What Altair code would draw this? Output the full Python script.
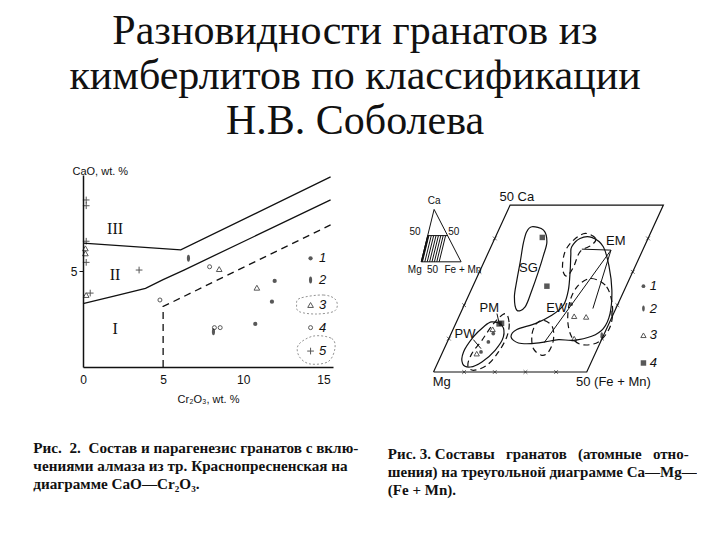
import altair as alt
import pandas as pd

BLACK = "#111111"
SERIF = "Liberation Serif"
SANS = "Liberation Sans"
NB = "\u00a0"

TITLE_LINES = ["Разновидности гранатов из", "кимберлитов по классификации", "Н.В. Соболева"]
CAPTION_LEFT = ["Рис." + NB + " 2." + NB + " Состав и парагенезис гранатов с вклю-",
                "чениями алмаза из тр. Краснопресненская на",
                "диаграмме CaO—Cr₂O₃."]
CAPTION_RIGHT = ["Рис. 3. Составы" + NB * 2 + " гранатов" + NB * 2 + " (атомные" + NB * 2 + " отно-",
                 "шения) на треугольной диаграмме Ca—Mg—",
                 "(Fe + Mn)."]

# ---------------- Left panel: CaO vs Cr2O3 (wt.%) ----------------
b3_x = [0.0, 6.1, 15.45]
b3_y = [6.45, 6.1, 9.9]
b2_x = [0.0, 2.0, 3.9, 5.0, 6.3, 15.45]
b2_y = [3.3, 3.7, 4.1, 4.55, 5.05, 8.7]
bd_x = [5.0, 5.0, 15.45]
bd_y = [0.0, 3.15, 7.4]

t1_x = [11.96, 11.79, 10.75]
t1_y = [4.48, 3.40, 2.24]
t2_x = [6.58, 8.14]
t2_y = [5.66, 1.84]
t3_x = [8.5, 10.85, 0.15, 0.15, 0.2]
t3_y = [5.1, 4.13, 6.18, 5.92, 3.75]
t4_x = [7.9, 4.8, 8.2, 8.56]
t4_y = [5.22, 3.49, 2.05, 2.05]
t5_x = [0.2, 0.2, 0.2, 0.2, 3.5, 0.45]
t5_y = [8.7, 8.4, 6.55, 5.45, 5.05, 3.85]

zone_x = [2.0, 2.0, 2.0]
zone_y = [7.2, 4.8, 2.0]
zone_txt = ["III", "II", "I"]

legL_x = 14.2
legL_lx = 14.95
legL_y = [5.66, 4.53, 3.23, 2.05, 0.83]
legL_txt = ["1", "2", "3", "4", "5"]

loop3_x = [13.54, 14.99, 15.78, 15.72, 14.58, 13.5, 13.33]
loop3_y = [3.58, 3.75, 3.49, 2.93, 2.76, 2.88, 3.23]
loop5_x = [14.37, 15.51, 15.72, 15.3, 14.16, 13.5, 13.44]
loop5_y = [1.61, 1.49, 0.97, 0.28, 0.16, 0.54, 1.15]

# ---------------- Right panel: Ca-Mg-(Fe+Mn) diagram ----------------
frame_fe = [0, 50, 50, 0, 0]
frame_ca = [0, 0, 50, 50, 0]
tick_vals = [10, 20, 30, 40]

# outlines in diagram coordinates (x = Fe + Ca/2, y = Ca)
SG_x = [32.1, 35.9, 37.0, 35.9, 34.2, 32.1, 29.9, 27.2, 26.4, 27.2, 28.3, 29.3, 30.4]
SG_y = [43.5, 42.5, 39.0, 35.0, 30.0, 24.5, 19.5, 18.5, 22.5, 27.5, 33.0, 38.5, 42.0]
EW_x = [45.1, 47.8, 51.6, 55.4, 57.3, 58.2, 57.6, 55.4, 51.6, 45.7, 40.8, 36.4, 32.1, 27.7,
        25.3, 27.2, 33.2, 38.6, 42.4, 44.0, 44.6, 44.8]
EW_y = [37.5, 40.0, 40.3, 37.5, 31.5, 24.5, 17.5, 13.0, 10.7, 9.5, 9.7, 9.0, 8.5, 8.7,
        10.5, 12.7, 14.5, 17.0, 20.0, 24.5, 30.5, 35.0]
PW_x = [19.0, 22.3, 22.8, 20.1, 15.8, 12.0, 9.5, 9.8, 13.0, 16.3]
PW_y = [15.0, 14.0, 10.5, 6.5, 3.0, 1.5, 2.5, 6.0, 10.5, 13.5]
EMt_x = [49.5, 52.9, 51.6, 47.8, 45.7, 43.5, 42.1, 42.9, 45.7]
EMt_y = [41.5, 40.0, 38.0, 36.0, 31.5, 28.7, 31.0, 36.0, 39.5]
EMr_x = [51.6, 56.5, 58.4, 57.6, 53.8, 48.4, 45.1, 43.8, 44.6, 47.3]
EMr_y = [28.0, 25.5, 19.5, 13.5, 9.0, 8.2, 10.5, 15.5, 21.5, 26.0]
EMs_x = [35.9, 38.8, 39.1, 37.5, 35.3, 32.6, 32.1, 33.4]
EMs_y = [15.5, 13.5, 9.5, 6.0, 5.0, 7.0, 11.0, 14.3]
PM_x = [23.4, 24.7, 23.9, 21.2, 17.4, 13.0, 11.2, 12.5, 15.8, 19.6]
PM_y = [17.5, 14.5, 10.5, 6.0, 2.0, 0.5, 2.0, 5.5, 9.5, 14.5]

field_txt = ["SG", "EW", "PM", "PW", "EM"]
field_x = [31.0, 40.2, 18.2, 10.3, 59.5]
field_y = [31.0, 19.2, 19.3, 11.3, 39.2]

seg_x = [57.9, 57.9, 57.9, 20.7, 13.0]
seg_y = [36.5, 36.5, 36.5, 17.5, 9.7]
seg_x2 = [48.4, 52.0, 36.1, 21.4, 15.5]
seg_y2 = [36.8, 19.0, 8.8, 14.7, 7.0]

r1_x = [44.9, 15.5, 17.9, 19.5]
r1_y = [20.3, 6.0, 9.0, 11.5]
r2_x = [58.2, 54.9]
r2_y = [17.5, 11.0]
r3_x = [45.9, 49.8, 45.9, 14.1, 19.3]
r3_y = [16.7, 16.5, 10.0, 5.5, 12.8]
r4_x = [35.5, 37.0, 21.4, 22.2]
r4_y = [40.3, 25.7, 14.4, 14.6]

legR_x = 68.5
legR_lx = 71.7
legR_y = [25.7, 19.0, 11.0, 2.7]
legR_txt = ["1", "2", "3", "4"]

corner_txt = ["50 Ca", "Mg", "50 (Fe + Mn)"]
corner_x = [27.2, 2.7, 58.7]
corner_y = [52.5, -3.0, -3.0]

# inset ternary triangle (percents) and its placement in the diagram
inset_tri_fe = [0, 100, 0, 0]
inset_tri_ca = [0, 0, 100, 0]
inset_hatch_fe = [0, 1, 2, 3, 9, 15, 21, 27, 33, 39, 45]
inset_lbl_txt = ["Ca", "50", "50", "Mg", "50", "Fe + Mn"]
inset_lbl_x = [0.2, -6.0, 6.6, -6.1, -0.3, 9.6]
inset_lbl_y = [51.2, 41.8, 41.8, 30.6, 30.6, 30.6]
INSET_O = (-4.0, 33.0)
INSET_S = (0.13, 0.042, 0.157)


def inset_xy(fe, ca):
    return INSET_O[0] + INSET_S[0] * fe + INSET_S[1] * ca, INSET_O[1] + INSET_S[2] * ca


# ---------------- helpers ----------------
XL = alt.Scale(domain=[0, 15.6], nice=False, zero=False)
YL = alt.Scale(domain=[0, 10], nice=False, zero=False)
AX_X = alt.Axis(values=[0, 5, 10, 15], title="Cr₂O₃, wt. %", grid=False, ticks=False,
                labelFont=SANS, labelFontSize=12, labelColor=BLACK, labelPadding=7,
                labelFlush=False, titleFont=SANS, titleFontSize=11, titleFontWeight="normal",
                titleColor=BLACK, titlePadding=8, domainColor=BLACK, domainWidth=1.5)
AX_Y = alt.Axis(values=[5], title="CaO, wt. %", grid=False, tickSize=4, tickColor=BLACK,
                labelFont=SANS, labelFontSize=12, labelColor=BLACK, labelPadding=2,
                titleFont=SANS, titleFontSize=11, titleFontWeight="normal", titleColor=BLACK,
                titleAngle=0, titleAlign="left", titleBaseline="middle", titleX=-11, titleY=-4,
                domainColor=BLACK, domainWidth=1.5)


def enc_l():
    return dict(x=alt.X("x:Q", scale=XL, axis=AX_X), y=alt.Y("y:Q", scale=YL, axis=AX_Y))


def lines_df(groups):
    rows = []
    for g, (xs, ys) in enumerate(groups):
        for i, (a, b) in enumerate(zip(xs, ys)):
            rows.append({"g": g, "i": i, "x": a, "y": b})
    return pd.DataFrame(rows)


def pts(xs, ys):
    return pd.DataFrame({"x": xs, "y": ys})


PLUS = "M-1,0L1,0M0,-1L0,1"
XSHAPE = "M-1,-1L1,1M-1,1L1,-1"
ELLIPSE = "M0,-1C0.6,-1 0.6,1 0,1C-0.6,1 -0.6,-1 0,-1Z"

# ---------------- left panel layers ----------------
L_solid = alt.Chart(lines_df([(b3_x, b3_y), (b2_x, b2_y)])).mark_line(
    color=BLACK, strokeWidth=1.3).encode(detail="g:N", order="i:Q", **enc_l())
L_dash = alt.Chart(lines_df([(bd_x, bd_y)])).mark_line(
    color=BLACK, strokeWidth=1.3, strokeDash=[7, 5]).encode(order="i:Q", **enc_l())
L_loops = alt.Chart(lines_df([(loop3_x, loop3_y), (loop5_x, loop5_y)])).mark_line(
    color="#777777", strokeWidth=0.8, strokeDash=[2, 2], interpolate="cardinal-closed"
).encode(detail="g:N", order="i:Q", **enc_l())

L_t1 = alt.Chart(pts(t1_x + [legL_x], t1_y + [legL_y[0]])).mark_point(
    shape="circle", filled=True, color=BLACK, size=18).encode(**enc_l())
L_t2 = alt.Chart(pts(t2_x + [legL_x], t2_y + [legL_y[1]])).mark_point(
    shape=ELLIPSE, filled=True, color=BLACK, size=50).encode(**enc_l())
L_t3 = alt.Chart(pts(t3_x + [legL_x], t3_y + [legL_y[2]])).mark_point(
    shape="triangle-up", filled=False, color=BLACK, size=32, strokeWidth=1).encode(**enc_l())
L_t4 = alt.Chart(pts(t4_x + [legL_x], t4_y + [legL_y[3]])).mark_point(
    shape="circle", filled=False, color=BLACK, size=16, strokeWidth=1).encode(**enc_l())
L_t5 = alt.Chart(pts(t5_x + [legL_x], t5_y + [legL_y[4]])).mark_point(
    shape=PLUS, filled=False, color=BLACK, size=45, strokeWidth=1).encode(**enc_l())

L_zone = alt.Chart(pd.DataFrame({"x": zone_x, "y": zone_y, "t": zone_txt})).mark_text(
    font=SERIF, fontSize=16, color=BLACK).encode(text="t:N", **enc_l())
L_leg = alt.Chart(pd.DataFrame({"x": [legL_lx] * 5, "y": legL_y, "t": legL_txt})).mark_text(
    font=SANS, fontSize=13, fontStyle="italic", color=BLACK, align="center").encode(
    text="t:N", **enc_l())

left = alt.layer(L_solid, L_dash, L_loops, L_t1, L_t2, L_t3, L_t4, L_t5, L_zone, L_leg).properties(
    width=250, height=192,
    title=alt.TitleParams(text=CAPTION_LEFT, orient="bottom", anchor="start", font=SERIF,
                          fontSize=15.2, fontWeight="bold", color=BLACK, lineHeight=18,
                          dx=-37, offset=37))

# ---------------- right panel layers ----------------
XR = alt.Scale(domain=[0, 77], nice=False, zero=False)
YR = alt.Scale(domain=[0, 59], nice=False, zero=False)


def enc_r():
    return dict(x=alt.X("x:Q", scale=XR, axis=None), y=alt.Y("y:Q", scale=YR, axis=None))


frame_df = pd.DataFrame({"i": range(len(frame_fe)),
                         "x": [f + c / 2 for f, c in zip(frame_fe, frame_ca)],
                         "y": frame_ca})
R_frame = alt.Chart(frame_df).mark_line(color=BLACK, strokeWidth=1.2).encode(order="i:Q", **enc_r())

tick_rows = []
for v in tick_vals:
    tick_rows.append({"x": 0 + v / 2, "y": v})      # Mg-Ca edge
    tick_rows.append({"x": v, "y": 0})              # Mg-(Fe+Mn) edge
    tick_rows.append({"x": 50 + v / 2, "y": v})     # right edge
R_ticks = alt.Chart(pd.DataFrame(tick_rows)).mark_point(
    shape=XSHAPE, filled=False, color=BLACK, size=14, strokeWidth=0.9).encode(**enc_r())

R_solid = alt.Chart(lines_df([(SG_x, SG_y), (EW_x, EW_y), (PW_x, PW_y)])).mark_line(
    color=BLACK, strokeWidth=1.2, interpolate="cardinal-closed").encode(
    detail="g:N", order="i:Q", **enc_r())
R_dash = alt.Chart(lines_df([(EMt_x, EMt_y), (EMr_x, EMr_y), (EMs_x, EMs_y), (PM_x, PM_y)])).mark_line(
    color=BLACK, strokeWidth=1.2, strokeDash=[6, 4], interpolate="cardinal-closed").encode(
    detail="g:N", order="i:Q", **enc_r())

seg_df = pd.DataFrame({"x": seg_x, "y": seg_y, "x2": seg_x2, "y2": seg_y2})
R_seg = alt.Chart(seg_df).mark_rule(color=BLACK, strokeWidth=1).encode(
    x2="x2:Q", y2="y2:Q", **enc_r())

R_fields = alt.Chart(pd.DataFrame({"x": field_x, "y": field_y, "t": field_txt})).mark_text(
    font=SANS, fontSize=13, color=BLACK).encode(text="t:N", **enc_r())
R_corner = alt.Chart(pd.DataFrame({"x": corner_x, "y": corner_y, "t": corner_txt})).mark_text(
    font=SANS, fontSize=13, color=BLACK).encode(text="t:N", **enc_r())

R_1 = alt.Chart(pts(r1_x + [legR_x], r1_y + [legR_y[0]])).mark_point(
    shape="circle", filled=True, color=BLACK, size=14).encode(**enc_r())
R_2 = alt.Chart(pts(r2_x + [legR_x], r2_y + [legR_y[1]])).mark_point(
    shape=ELLIPSE, filled=True, color=BLACK, size=35).encode(**enc_r())
R_3 = alt.Chart(pts(r3_x + [legR_x], r3_y + [legR_y[2]])).mark_point(
    shape="triangle-up", filled=False, color=BLACK, size=28, strokeWidth=1).encode(**enc_r())
R_4 = alt.Chart(pts(r4_x + [legR_x], r4_y + [legR_y[3]])).mark_point(
    shape="square", filled=True, color=BLACK, size=30).encode(**enc_r())
R_leg = alt.Chart(pd.DataFrame({"x": [legR_lx] * 4, "y": legR_y, "t": legR_txt})).mark_text(
    font=SANS, fontSize=13, fontStyle="italic", color=BLACK).encode(text="t:N", **enc_r())

# inset triangle
tri_pts = [inset_xy(f, c) for f, c in zip(inset_tri_fe, inset_tri_ca)]
tri_df = pd.DataFrame({"i": range(len(tri_pts)), "x": [p[0] for p in tri_pts], "y": [p[1] for p in tri_pts]})
R_tri = alt.Chart(tri_df).mark_line(color=BLACK, strokeWidth=1).encode(order="i:Q", **enc_r())

inset_segs = []
a = inset_xy(0, 50)
b = inset_xy(50, 50)
inset_segs.append({"x": a[0], "y": a[1], "x2": b[0], "y2": b[1]})
for f in inset_hatch_fe:
    p = inset_xy(f, 0)
    q = inset_xy(f, 50)
    inset_segs.append({"x": p[0], "y": p[1], "x2": q[0], "y2": q[1]})
R_inset_seg = alt.Chart(pd.DataFrame(inset_segs)).mark_rule(color=BLACK, strokeWidth=1).encode(
    x2="x2:Q", y2="y2:Q", **enc_r())
R_inset_lbl = alt.Chart(pd.DataFrame({"x": inset_lbl_x, "y": inset_lbl_y, "t": inset_lbl_txt})).mark_text(
    font=SANS, fontSize=10, color=BLACK).encode(text="t:N", **enc_r())

right = alt.layer(R_frame, R_ticks, R_solid, R_dash, R_seg, R_fields, R_corner,
                  R_1, R_2, R_3, R_4, R_leg, R_tri, R_inset_seg, R_inset_lbl).properties(
    width=236, height=197,
    title=alt.TitleParams(text=CAPTION_RIGHT, orient="bottom", anchor="start", font=SERIF,
                          fontSize=15, fontWeight="bold", color=BLACK, lineHeight=18,
                          dx=-20, offset=58))

chart = alt.hconcat(left, right, spacing=100.5, bounds="flush").properties(
    title=alt.TitleParams(text=TITLE_LINES, font=SERIF, fontSize=42, fontWeight="normal",
                          color=BLACK, lineHeight=45, anchor="middle", offset=22, dx=-10),
    padding={"left": 25, "top": 2, "right": 0, "bottom": 5},
    background="white",
).configure_view(stroke=None).configure_title(font=SERIF)

chart.save("out.html", embed_options={"renderer": "svg", "actions": False})
